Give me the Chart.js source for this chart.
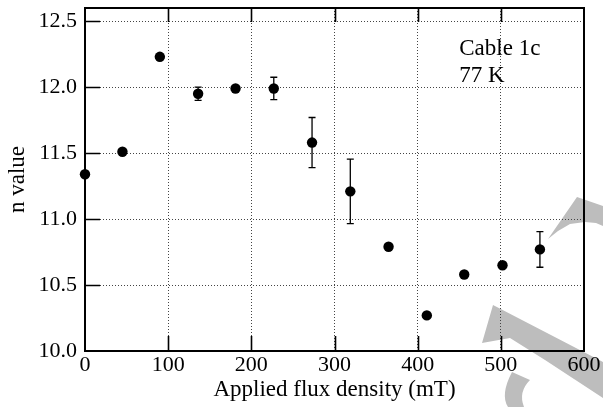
<!DOCTYPE html>
<html>
<head>
<meta charset="utf-8">
<script src="https://cdn.jsdelivr.net/npm/chart.js@4.4.1/dist/chart.umd.min.js"></script>
<style>
  html, body { margin: 0; padding: 0; background: #fff; }
  #wrap { width: 603px; height: 407px; position: relative; }
</style>
</head>
<body>
<div id="wrap"><canvas id="myChart"></canvas></div>
<script>
// applied field (mT) and n value
var fieldMT = [0, 45, 90, 136, 181, 227, 273, 319, 365, 411, 456, 502, 547];
var nValue  = [11.34, 11.51, 12.23, 11.95, 11.99, 11.99, 11.58, 11.21, 10.79, 10.27, 10.58, 10.65, 10.77];
var nError  = [0, 0, 0, 0.05, 0, 0.085, 0.19, 0.245, 0, 0, 0, 0, 0.135];

var xTicks = [0, 100, 200, 300, 400, 500, 600];
var yTicks = [10.0, 10.5, 11.0, 11.5, 12.0, 12.5];
var noteLines = ['Cable 1c', '77 K'];

var serif = "'Liberation Serif', 'Times New Roman', serif";
Chart.defaults.font.family = serif;
Chart.defaults.color = '#000';

// grey watermark strokes behind the plot
var watermark = {
  id: 'watermark',
  beforeDraw: function(chart) {
    var c = chart.ctx;
    c.save();
    c.fillStyle = '#bdbdbd';
    c.beginPath();
    c.moveTo(577, 197); c.lineTo(603, 206); c.lineTo(603, 226);
    c.lineTo(596, 223); c.lineTo(585, 222); c.lineTo(570, 224);
    c.lineTo(558, 231); c.lineTo(548, 239);
    c.closePath();
    c.fill();
    c.beginPath();
    c.moveTo(493, 305); c.lineTo(603, 362); c.lineTo(603, 398);
    c.lineTo(545, 360); c.lineTo(510, 338); c.lineTo(482, 343);
    c.closePath();
    c.fill();
    c.beginPath();
    c.moveTo(512, 372); c.quadraticCurveTo(500, 395, 508, 407);
    c.lineTo(524, 407); c.quadraticCurveTo(518, 392, 530, 380);
    c.closePath();
    c.fill();
    c.restore();
  }
};

var errorBars = {
  id: 'errorBars',
  beforeDatasetsDraw: function(chart) {
    var c = chart.ctx, xs = chart.scales.x, ys = chart.scales.y;
    c.save();
    c.strokeStyle = '#000';
    c.lineWidth = 1.3;
    for (var i = 0; i < fieldMT.length; i++) {
      if (!nError[i]) continue;
      var px = xs.getPixelForValue(fieldMT[i]);
      var top = ys.getPixelForValue(nValue[i] + nError[i]);
      var bot = ys.getPixelForValue(nValue[i] - nError[i]);
      c.beginPath();
      c.moveTo(px, top); c.lineTo(px, bot);
      c.moveTo(px - 3.5, top); c.lineTo(px + 3.5, top);
      c.moveTo(px - 3.5, bot); c.lineTo(px + 3.5, bot);
      c.stroke();
    }
    c.restore();
  }
};

var frame = {
  id: 'frame',
  afterDatasetsDraw: function(chart) {
    var c = chart.ctx, a = chart.chartArea, xs = chart.scales.x, ys = chart.scales.y;
    c.save();
    c.strokeStyle = '#000';
    c.lineWidth = 1.6;
    c.beginPath();
    xTicks.forEach(function(v) {
      if (v === xTicks[0] || v === xTicks[xTicks.length - 1]) return;
      var px = Math.round(xs.getPixelForValue(v)) + 0.5;
      c.moveTo(px, a.bottom); c.lineTo(px, a.bottom - 15);
      c.moveTo(px, a.top); c.lineTo(px, a.top + 14);
    });
    yTicks.forEach(function(v) {
      if (v === yTicks[0]) return;
      var py = Math.round(ys.getPixelForValue(v)) + 0.5;
      c.moveTo(a.left, py); c.lineTo(a.left + 15, py);
    });
    c.stroke();
    c.lineWidth = 2;
    c.strokeRect(a.left, a.top, a.right - a.left, a.bottom - a.top);
    // annotation text
    c.fillStyle = '#000';
    c.font = '23px ' + serif;
    c.textBaseline = 'alphabetic';
    c.fillText(noteLines[0], xs.getPixelForValue(450), ys.getPixelForValue(12.245));
    c.fillText(noteLines[1], xs.getPixelForValue(450), ys.getPixelForValue(12.04));
    c.restore();
  }
};

var ctx = document.getElementById('myChart');
var nChart = new Chart(ctx, {
  type: 'scatter',
  data: {
    datasets: [{
      data: fieldMT.map(function(x, i) { return { x: x, y: nValue[i] }; }),
      backgroundColor: '#000',
      borderColor: '#000',
      borderWidth: 0,
      pointRadius: 5.2,
      pointHoverRadius: 5.2,
      clip: false
    }]
  },
  options: {
    responsive: true,
    maintainAspectRatio: false,
    animation: false,
    events: [],
    layout: { padding: { top: 8, right: 19, left: 0, bottom: 0 } },
    plugins: { legend: { display: false }, tooltip: { enabled: false } },
    scales: {
      x: {
        type: 'linear',
        min: 0, max: 600,
        afterFit: function(s) { s.height = 56; s.paddingLeft = 0; s.paddingRight = 0; },
        afterBuildTicks: function(s) { s.ticks = xTicks.map(function(v) { return { value: v }; }); },
        ticks: { font: { family: serif, size: 22 }, padding: 1, maxRotation: 0, color: '#000' },
        grid: { color: '#444', lineWidth: 1, drawTicks: false },
        border: { display: false, dash: [1, 2] },
        title: { display: true, text: 'Applied flux density (mT)', font: { family: serif, size: 23 }, color: '#000', padding: { top: 0, bottom: 3 } }
      },
      y: {
        type: 'linear',
        min: 10.0, max: 12.6,
        afterFit: function(s) { s.width = 85; s.paddingTop = 0; s.paddingBottom = 0; },
        afterBuildTicks: function(s) { s.ticks = yTicks.map(function(v) { return { value: v }; }); },
        ticks: { font: { family: serif, size: 22 }, padding: 8, color: '#000', callback: function(v) { return v.toFixed(1); } },
        grid: { color: '#444', lineWidth: 1, drawTicks: false },
        border: { display: false, dash: [1, 2] },
        title: { display: true, text: 'n value', font: { family: serif, size: 23 }, color: '#000', padding: { top: 4, bottom: 0 } }
      }
    }
  },
  plugins: [watermark, errorBars, frame]
});
</script>
</body>
</html>
